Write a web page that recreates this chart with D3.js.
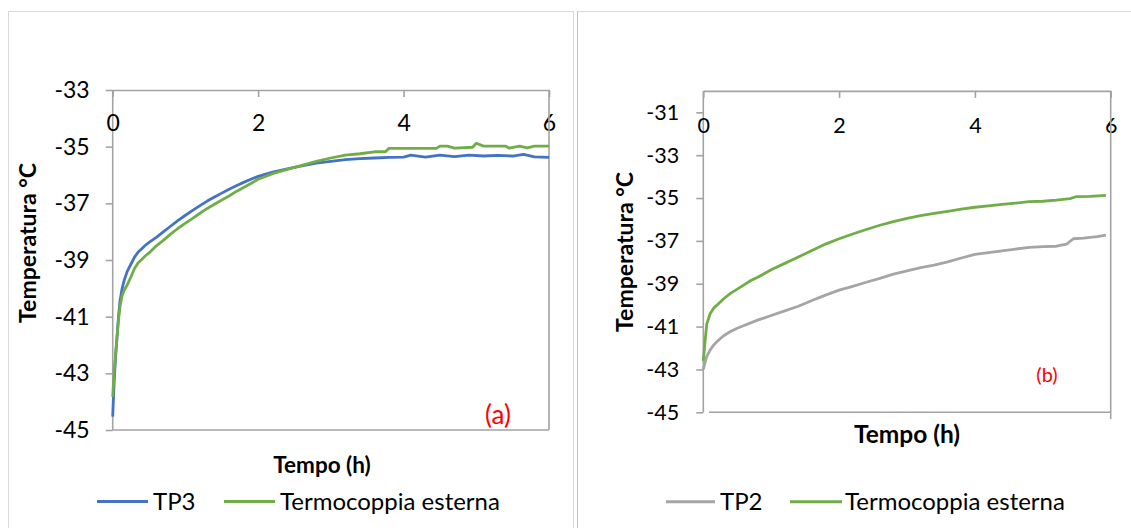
<!DOCTYPE html>
<html>
<head>
<meta charset="utf-8">
<script src="https://cdn.jsdelivr.net/npm/d3@7"></script>
<style>
  html, body { margin: 0; padding: 0; background: #ffffff; }
  svg { display: block; }
  text { font-family: Lato, "Open Sans", sans-serif; fill: #000; }
</style>
</head>
<body>
<svg id="chart" width="1131" height="528"></svg>
<script>
// ---------------- DATA ----------------
// Panel (a)
const timeTP3 = [0, 0.02, 0.04, 0.06, 0.08, 0.1, 0.13, 0.16, 0.2, 0.25, 0.3, 0.35, 0.4, 0.45, 0.5, 0.6, 0.7, 0.8, 0.9, 1.0,
  1.1, 1.2, 1.3, 1.4, 1.5, 1.6, 1.7, 1.8, 1.9, 2.0, 2.2, 2.4, 2.6, 2.8, 3.0, 3.2, 3.4, 3.6, 3.8, 4.0,
  4.1, 4.3, 4.5, 4.7, 4.9, 5.1, 5.3, 5.5, 5.65, 5.8, 6.0];
const tp3 = [-44.53, -43.3, -42.4, -41.7, -41.0, -40.45, -40.0, -39.7, -39.4, -39.15, -38.9, -38.72, -38.6, -38.48, -38.38, -38.2, -38.0, -37.8, -37.6, -37.42,
  -37.25, -37.08, -36.92, -36.78, -36.64, -36.5, -36.38, -36.26, -36.15, -36.05, -35.9, -35.78, -35.68, -35.58, -35.52, -35.46, -35.42, -35.4, -35.38, -35.37,
  -35.3, -35.37, -35.3, -35.35, -35.3, -35.33, -35.31, -35.33, -35.27, -35.36, -35.38];
const timeEstA = [0, 0.02, 0.04, 0.06, 0.08, 0.1, 0.13, 0.16, 0.2, 0.25, 0.3, 0.35, 0.4, 0.45, 0.5, 0.6, 0.7, 0.8, 0.9, 1.0,
  1.1, 1.2, 1.3, 1.4, 1.5, 1.6, 1.7, 1.8, 1.9, 2.0, 2.2, 2.4, 2.6, 2.8, 3.0, 3.2, 3.4, 3.6, 3.75, 3.8,
  4.0, 4.2, 4.45, 4.5, 4.6, 4.7, 4.95, 5.0, 5.1, 5.4, 5.45, 5.6, 5.7, 5.8, 6.0];
const estA = [-43.83, -43.0, -42.3, -41.7, -41.1, -40.65, -40.25, -40.05, -39.88, -39.6, -39.3, -39.1, -38.98, -38.85, -38.75, -38.5, -38.3, -38.08, -37.88, -37.7,
  -37.53, -37.35, -37.18, -37.03, -36.88, -36.74, -36.58, -36.44, -36.3, -36.15, -35.95, -35.8, -35.66, -35.52, -35.4, -35.3, -35.25, -35.18, -35.18, -35.06,
  -35.06, -35.06, -35.06, -34.98, -34.98, -35.05, -35.02, -34.88, -34.98, -34.98, -35.05, -34.98, -35.04, -34.98, -34.98];

// Panel (b)
const timeTP2 = [0, 0.02, 0.05, 0.1, 0.15, 0.2, 0.3, 0.4, 0.5, 0.6, 0.8, 1.0, 1.2, 1.4, 1.6, 1.8, 2.0, 2.2, 2.4, 2.6,
  2.8, 3.0, 3.2, 3.4, 3.6, 3.8, 4.0, 4.2, 4.4, 4.6, 4.8, 5.0, 5.2, 5.35, 5.45, 5.6, 5.8, 5.93];
const tp2 = [-43.0, -42.75, -42.4, -42.1, -41.87, -41.7, -41.43, -41.23, -41.08, -40.95, -40.7, -40.48, -40.27, -40.05, -39.78, -39.53, -39.3, -39.12, -38.93, -38.75,
  -38.55, -38.4, -38.25, -38.13, -37.98, -37.8, -37.63, -37.55, -37.47, -37.38, -37.3, -37.27, -37.25, -37.15, -36.9, -36.87, -36.8, -36.73];
const timeEstB = [0, 0.02, 0.05, 0.1, 0.15, 0.2, 0.3, 0.4, 0.5, 0.6, 0.7, 0.8, 1.0, 1.2, 1.4, 1.6, 1.8, 2.0, 2.2, 2.4,
  2.6, 2.8, 3.0, 3.2, 3.4, 3.6, 3.8, 4.0, 4.2, 4.4, 4.6, 4.8, 5.0, 5.2, 5.4, 5.5, 5.7, 5.93];
const estB = [-42.6, -41.9, -40.9, -40.4, -40.15, -40.0, -39.7, -39.45, -39.25, -39.05, -38.85, -38.7, -38.35, -38.05, -37.75, -37.45, -37.15, -36.9, -36.68, -36.47,
  -36.27, -36.1, -35.95, -35.82, -35.72, -35.62, -35.52, -35.43, -35.37, -35.3, -35.24, -35.17, -35.15, -35.1, -35.03, -34.93, -34.92, -34.88];

const xTicks = [0, 2, 4, 6];
const yTicksA = [-45, -43, -41, -39, -37, -35, -33];
const yTicksB = [-45, -43, -41, -39, -37, -35, -33, -31];
const xTitle = "Tempo (h)";
const yTitle = "Temperatura °C";
const seriesNamesA = ["TP3", "Termocoppia esterna"];
const seriesNamesB = ["TP2", "Termocoppia esterna"];
const labelA = "(a)";
const labelB = "(b)";

// ---------------- DRAW ----------------
const svg = d3.select("#chart");
const AXIS = "#A3A3A3";
const BLUE = "#4472C4", GREEN = "#70AD47", GRAY = "#A5A5A5";
const fmt = d => String(d);   // plain hyphen-minus like the original

// outer frames
svg.append("line").attr("x1", 8.5).attr("x2", 8.5).attr("y1", 11).attr("y2", 528).attr("stroke", "#D9D9D9");
svg.append("line").attr("x1", 8.5).attr("x2", 573.5).attr("y1", 11.5).attr("y2", 11.5).attr("stroke", "#D9D9D9");
svg.append("line").attr("x1", 573.5).attr("x2", 573.5).attr("y1", 11).attr("y2", 528).attr("stroke", "#D9D9D9");
svg.append("line").attr("x1", 577.5).attr("x2", 577.5).attr("y1", 11).attr("y2", 528).attr("stroke", "#BFBFBF");
svg.append("line").attr("x1", 577.5).attr("x2", 1131).attr("y1", 11.5).attr("y2", 11.5).attr("stroke", "#D9D9D9");

function panel(o) {
  const g = svg.append("g");
  const x = d3.scaleLinear().domain([0, 6]).range(o.xr);
  const y = d3.scaleLinear().domain(o.yd).range(o.yr);
  const top = y(o.yd[1]), bottom = y(o.yd[0]);

  // y axis
  const ya = g.append("g").attr("transform", `translate(${x(0)},0)`)
    .call(d3.axisLeft(y).tickValues(o.yTicks).tickSize(7).tickSizeOuter(0).tickPadding(o.yPad).tickFormat(fmt));
  ya.select(".domain").attr("stroke", AXIS).attr("stroke-width", 1.6).attr("d", `M0,${top}V${bottom}`);
  ya.selectAll(".tick line").attr("stroke", AXIS).attr("stroke-width", 1.6);
  ya.selectAll(".tick text").attr("font-size", o.tickFont).attr("font-family", "Lato, sans-serif").attr("fill", "#000");

  // top x axis (labels below the line, ticks pointing down)
  const xa = g.append("g").attr("transform", `translate(0,${top})`)
    .call(d3.axisBottom(x).tickValues(xTicks).tickSize(7).tickSizeOuter(0).tickFormat(fmt));
  xa.select(".domain").attr("stroke", AXIS).attr("stroke-width", 1.6);
  xa.selectAll(".tick line").attr("stroke", AXIS).attr("stroke-width", 1.6);
  xa.selectAll(".tick text").attr("font-size", o.tickFont).attr("font-family", "Lato, sans-serif").attr("fill", "#000")
    .attr("y", o.xLabelY - top).attr("dy", "0.36em");

  // right border & bottom border
  g.append("line").attr("x1", x(6)).attr("x2", x(6)).attr("y1", top).attr("y2", o.rightBottom)
    .attr("stroke", AXIS).attr("stroke-width", 1.6);
  g.append("line").attr("x1", o.bottomStart).attr("x2", x(6)).attr("y1", bottom).attr("y2", bottom)
    .attr("stroke", AXIS).attr("stroke-width", 1.6);

  // series
  const line = d3.line().x(d => x(d[0])).y(d => y(d[1]));
  o.series.forEach(s => {
    const pts = s.t.map((t, i) => [t, s.v[i]]);
    g.append("path").datum(pts).attr("d", line).attr("fill", "none")
      .attr("stroke", s.color).attr("stroke-width", 2.8).attr("stroke-linejoin", "round");
  });

  // panel label
  g.append("text").attr("x", o.label.x).attr("y", o.label.y).attr("text-anchor", "middle")
    .attr("font-size", o.label.size).style("fill", "#FF0000").text(o.label.text);

  // axis titles
  g.append("text").attr("x", o.xTitle.x).attr("y", o.xTitle.y).attr("text-anchor", "middle")
    .attr("font-size", o.xTitle.size).attr("font-weight", "bold").text(xTitle);
  g.append("text").attr("transform", `translate(${o.yTitle.x},${o.yTitle.y}) rotate(-90)`).attr("text-anchor", "middle")
    .attr("font-size", o.yTitle.size).attr("font-weight", "bold").text(yTitle);

  // legend
  const lg = g.append("g");
  o.series.forEach((s, i) => {
    const L = o.legend[i];
    lg.append("line").attr("x1", L.x1).attr("x2", L.x2).attr("y1", o.legendY).attr("y2", o.legendY)
      .attr("stroke", s.color).attr("stroke-width", 3);
    lg.append("text").attr("x", L.tx).attr("y", o.legendY + 8.5).attr("font-size", o.legendFont).text(o.names[i]);
  });
}

panel({
  xr: [112.7, 549], yd: [-45, -33], yr: [430, 90], yTicks: yTicksA, yPad: 16, tickFont: 23,
  xLabelY: 123, rightBottom: 430, bottomStart: 112.7,
  series: [{t: timeTP3, v: tp3, color: BLUE}, {t: timeEstA, v: estA, color: GREEN}],
  names: seriesNamesA,
  label: {x: 498, y: 424, size: 26, text: labelA},
  xTitle: {x: 322, y: 473, size: 22.5},
  yTitle: {x: 36, y: 243, size: 23},
  legendY: 501.5, legendFont: 24,
  legend: [{x1: 97, x2: 148, tx: 153}, {x1: 224, x2: 275, tx: 280}]
});

panel({
  xr: [703.3, 1110.7], yd: [-45, -30], yr: [412.3, 90.9], yTicks: yTicksB, yPad: 17, tickFont: 21.5,
  xLabelY: 125, rightBottom: 419, bottomStart: 709,
  series: [{t: timeTP2, v: tp2, color: GRAY}, {t: timeEstB, v: estB, color: GREEN}],
  names: seriesNamesB,
  label: {x: 1047, y: 382, size: 20, text: labelB},
  xTitle: {x: 907, y: 443, size: 24.5},
  yTitle: {x: 633, y: 252, size: 23},
  legendY: 501.7, legendFont: 24,
  legend: [{x1: 666, x2: 715, tx: 720}, {x1: 790, x2: 842, tx: 845}]
});
</script>
</body>
</html>
